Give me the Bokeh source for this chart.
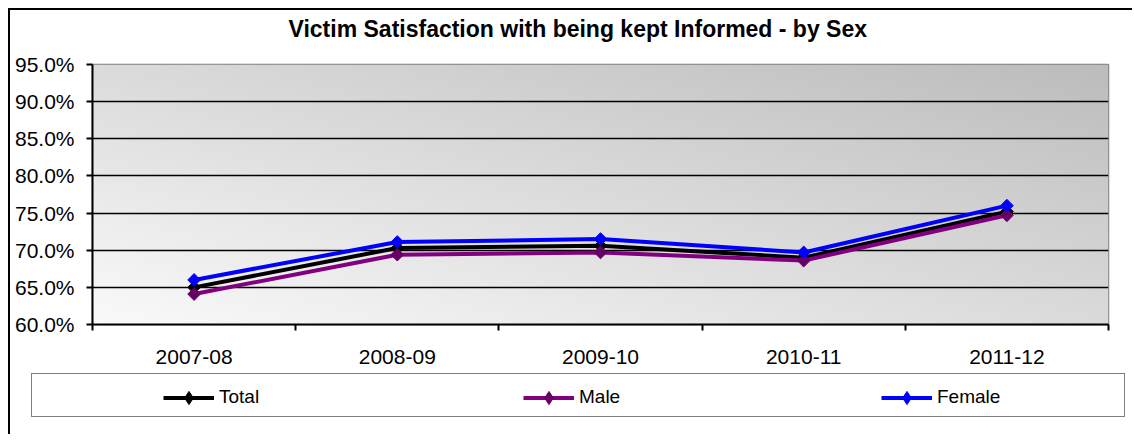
import numpy as np
from bokeh.plotting import figure
from bokeh.layouts import column
from bokeh.models import (Range1d, FixedTicker, PrintfTickFormatter, Legend,
                          LegendItem, Title)
from bokeh.embed import file_html
from bokeh.resources import INLINE

# ---------------- data ----------------
categories = ["2007-08", "2008-09", "2009-10", "2010-11", "2011-12"]
total = [65.0, 70.3, 70.6, 69.0, 75.2]
male = [64.1, 69.4, 69.7, 68.6, 74.7]
female = [66.0, 71.1, 71.5, 69.7, 76.0]
y_ticks = [60, 65, 70, 75, 80, 85, 90, 95]
title_text = "Victim Satisfaction with being kept Informed - by Sex"
series_names = ["Total", "Male", "Female"]

FONT = "Liberation Sans"
xs = [i + 0.5 for i in range(len(categories))]
W = 1122
styles = [("black", "black"), ("#800080", "#660066"), ("#0000FF", "#0000FF")]
series = [total, male, female]

# ---------------- main chart ----------------
p = figure(width=W, height=360, output_backend="svg", toolbar_location=None,
           title_location=None,
           x_range=Range1d(0, len(categories)),
           y_range=Range1d(y_ticks[0], y_ticks[-1]),
           min_border_left=82, min_border_right=W - 82 - 1016,
           min_border_top=54, min_border_bottom=46)
p.frame_align = False
p.background_fill_color = "white"
p.border_fill_color = "white"
p.outline_line_color = "#808080"
p.outline_line_width = 1.5

# spacer between title and plot area, then the title itself
p.add_layout(Title(text=" ", text_font_size="10px", standoff=10,
                   text_font=FONT), "above")
p.add_layout(Title(text=title_text, align="left", offset=196, standoff=0,
                   text_font=FONT, text_font_style="bold", text_font_size="23px",
                   text_color="black"), "above")

# gradient background of the plot area
ny, nx = 130, 508
u = np.linspace(0, 1, nx)[None, :]
v = np.linspace(0, 1, ny)[:, None]
g = (250 - 62 * (0.5 * u + 0.5 * v)).astype(np.uint8)
img = np.empty((ny, nx), dtype=np.uint32)
view = img.view(dtype=np.uint8).reshape((ny, nx, 4))
view[..., 0] = g
view[..., 1] = g
view[..., 2] = g
view[..., 3] = 255
p.image_rgba(image=[img], x=0, y=y_ticks[0], dw=len(categories),
             dh=y_ticks[-1] - y_ticks[0], level="image")

# grid
p.xgrid.visible = False
p.ygrid.ticker = FixedTicker(ticks=y_ticks[1:-1])
p.ygrid.grid_line_color = "black"
p.ygrid.grid_line_width = 1.5

# y axis
p.yaxis.ticker = FixedTicker(ticks=y_ticks)
p.yaxis.formatter = PrintfTickFormatter(format="%.1f%%")
p.yaxis.axis_line_width = 2
p.yaxis.axis_line_color = "black"
p.yaxis.major_tick_out = 6
p.yaxis.major_tick_in = 0
p.yaxis.major_tick_line_width = 2
p.yaxis.minor_tick_line_color = None
p.yaxis.major_label_standoff = 12
p.yaxis.major_label_text_font = FONT
p.yaxis.major_label_text_font_size = "21px"
p.yaxis.major_label_text_color = "black"

# x axis: labels at category centres, ticks at boundaries
p.xaxis.ticker = FixedTicker(ticks=xs, minor_ticks=list(range(len(categories) + 1)))
p.xaxis.major_label_overrides = {x: c for x, c in zip(xs, categories)}
p.xaxis.axis_line_width = 2
p.xaxis.axis_line_color = "black"
p.xaxis.major_tick_line_color = None
p.xaxis.major_tick_out = 6
p.xaxis.major_tick_in = 0
p.xaxis.minor_tick_out = 6
p.xaxis.minor_tick_in = 0
p.xaxis.minor_tick_line_color = "black"
p.xaxis.minor_tick_line_width = 2
p.xaxis.major_label_standoff = 19
p.xaxis.major_label_text_font = FONT
p.xaxis.major_label_text_font_size = "21px"
p.xaxis.major_label_text_color = "black"

for vals, (lc, mc) in zip(series, styles):
    p.line(xs, vals, line_color=lc, line_width=4)
    p.scatter(xs, vals, marker="square", angle=np.pi / 4, size=9,
              fill_color=mc, line_color=mc)

# ---------------- legend strip ----------------
LH = 64
q = figure(width=W, height=LH, output_backend="svg", toolbar_location=None,
           x_range=Range1d(0, 1), y_range=Range1d(0, 1),
           x_axis_type=None, y_axis_type=None,
           min_border_left=0, min_border_right=0, min_border_top=0, min_border_bottom=0)
q.frame_align = False
q.grid.visible = False
q.outline_line_color = None
q.background_fill_color = "white"
q.border_fill_color = "white"

# page coordinates of this strip: left 10, bottom 370 + LH
SL, SB = 10, 370 + LH

dummy = q.line(x=[], y=[], line_alpha=0)
box = Legend(items=[LegendItem(label=" ", renderers=[dummy])],
             location=(31 - SL, SB - 417), padding=0, spacing=0, margin=0,
             glyph_width=1, glyph_height=42, label_width=1091, label_height=42,
             label_standoff=0, label_text_font_size="2px",
             border_line_color="black", border_line_width=1.5,
             background_fill_color="white", background_fill_alpha=1)
q.add_layout(box)

# legend renderers carry the series data (outside this strip's range, so
# only their legend glyphs are visible)
GH = 33
legend_x = [163, 523, 881]
for name, vals, (lc, mc), lx in zip(series_names, series, styles, legend_x):
    rl = q.line(xs, vals, line_color=lc, line_width=4)
    rm = q.scatter(xs, vals, marker="diamond", size=9,
                   fill_color=mc, line_color=mc)
    lg = Legend(items=[LegendItem(label=name, renderers=[rl, rm])],
                location=(lx - SL, SB - (397 + GH / 2)), padding=0, spacing=0, margin=0,
                glyph_width=51, glyph_height=GH, label_height=GH, label_standoff=5,
                label_text_font=FONT, label_text_font_size="19px",
                label_text_color="black",
                border_line_color=None, background_fill_alpha=0)
    q.add_layout(lg)

layout = column(p, q, spacing=0)
layout.styles = {"margin-left": "8px", "margin-top": "8px",
                 "border-left": "2px solid black", "border-top": "2px solid black"}

open("out.html", "w").write(file_html(layout, INLINE))
